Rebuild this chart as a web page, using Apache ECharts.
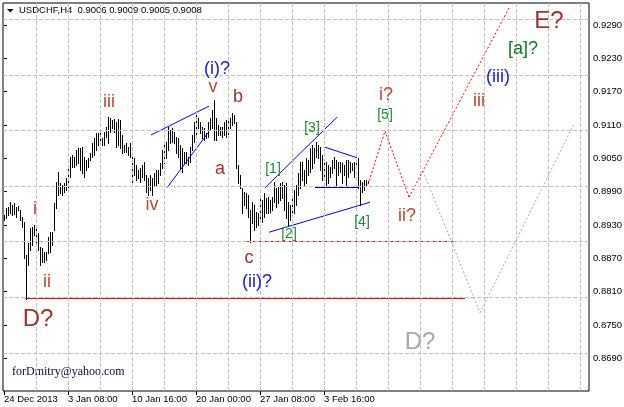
<!DOCTYPE html>
<html><head><meta charset="utf-8">
<script src="https://cdn.jsdelivr.net/npm/echarts@6/dist/echarts.min.js"></script>
<style>html,body{margin:0;padding:0;background:#fff}#c{width:624px;height:407px}</style>
</head><body><div id="c"></div>
<script>
// H4 bars (high / low), one per 4-hour bar from 24 Dec 2013
const highs = [
.8948,.8961,.8962,.8971,.8966,.8970,.8962,.8964,.8957,.8944,
.8935,.8876,.8898,.8925,.8926,.8930,.8926,.8916,.8890,.8889,
.8881,.8881,.8908,.8917,.8917,.8970,.9007,.9025,.9006,.9002,
.9006,.9015,.9033,.9052,.9056,.9052,.9065,.9069,.9069,.9070,
.9052,.9047,.9051,.9060,.9078,.9087,.9096,.9096,.9101,.9087,
.9097,.9106,.9124,.9123,.9119,.9121,.9115,.9121,.9119,.9092,
.9074,.9078,.9070,.9078,.9060,.9051,.9038,.9029,.9033,.9038,
.9043,.9020,.9015,.9020,.9015,.9024,.9029,.9029,.9042,.9065,
.9074,.9079,.9106,.9101,.9105,.9097,.9088,.9087,.9074,.9069,
.9061,.9061,.9052,.9070,.9092,.9115,.9132,.9123,.9115,.9106,
.9105,.9096,.9115,.9123,.9137,.9155,.9123,.9110,.9106,.9106,
.9115,.9119,.9123,.9123,.9132,.9128,.9115,.9038,.9020,.8997,
.8989,.8988,.8984,.8957,.8971,.8966,.8953,.8952,.8980,.8975,
.8988,.8979,.8980,.8975,.8980,.9007,.8997,.8998,.9006,.9007,
.9002,.9006,.8971,.8966,.8980,.8993,.9002,.9024,.9043,.9043,
.9029,.9051,.9047,.9069,.9074,.9069,.9079,.9074,.9070,.9056,
.9042,.9043,.9038,.9034,.9047,.9052,.9047,.9043,.9043,.9042,
.9038,.9047,.9047,.9043,.9042,.9043,.9047,.9051,.9011,.9007,
.9011,.9011,.9009];
const lows = [
.8939,.8943,.8948,.8952,.8948,.8950,.8944,.8957,.8939,.8926,
.8871,.8797,.8858,.8885,.8894,.8912,.8899,.8885,.8858,.8863,
.8863,.8867,.8880,.8881,.8894,.8921,.8961,.8984,.8988,.8984,
.8989,.8993,.8998,.9016,.9034,.9034,.9038,.9042,.9029,.9024,
.9016,.9029,.9034,.9047,.9052,.9056,.9065,.9074,.9079,.9074,
.9074,.9088,.9078,.9097,.9105,.9097,.9070,.9074,.9069,.9060,
.9061,.9061,.9056,.9052,.9002,.9020,.9011,.9015,.9007,.9016,
.9011,.8989,.8984,.8993,.8984,.9002,.9002,.9006,.9020,.9033,
.9042,.9051,.9065,.9078,.9079,.9078,.9060,.9052,.9033,.9025,
.9042,.9042,.9038,.9043,.9065,.9079,.9092,.9105,.9096,.9087,
.9083,.9087,.9088,.9101,.9105,.9083,.9083,.9092,.9092,.9088,
.9092,.9088,.9092,.9105,.9110,.9114,.9033,.9006,.8997,.8952,
.8966,.8961,.8944,.8900,.8934,.8921,.8926,.8930,.8939,.8935,
.8944,.8952,.8952,.8953,.8957,.8971,.8962,.8970,.8975,.8979,
.8957,.8943,.8930,.8939,.8948,.8952,.8966,.8984,.8997,.9011,
.9002,.9006,.9020,.9025,.9033,.9042,.9052,.9051,.9029,.9011,
.9015,.9002,.9006,.9016,.9024,.9033,.9002,.9020,.9025,.9006,
.9020,.9002,.9016,.9025,.9029,.9016,.9033,.8997,.8966,.8989,
.8993,.9002,.9005];

const yTicks = [0.8690,0.8750,0.8810,0.8870,0.8930,0.8990,0.9050,0.9110,0.9170,0.9230,0.9290];
const xTickIdx = [0,32,64,96,128,160];
const xTickLabels = ['24 Dec 2013','3 Jan 08:00','10 Jan 16:00','20 Jan 00:00','27 Jan 08:00','3 Feb 16:00'];
const gridIdx = [16,32,48,64,80,96,112,128,144,160,176,192,208,224,240,256,272,288];

// analysis lines [barIndex, price]
const blueLines = [
  [[73.5,0.9092],[102.5,0.9144]],
  [[81.5,0.8997],[102,0.9096]],
  [[130.5,0.8997],[166.5,0.9124]],
  [[132.5,0.8917],[183,0.8971]],
  [[160.5,0.9070],[176.5,0.9051]]
];
const blueLevels = [
  [[155.5,0.8997],[177,0.8997]]
];
const redLevels = [
  [[10.5,0.8797],[230.5,0.8797]],
  [[120.5,0.8900],[225,0.8900]]
];
const redPath = [[182,0.9003],[190.5,0.9099],[202.5,0.8980],[253,0.9324]];
const greyPath = [[209.5,0.9027],[238,0.8772],[285,0.9112]];

// wave labels
const labelText = ['i','ii','iii','iv','v','(i)?','a','b','c','(ii)?','D?','[1]','[2]','[3]','[4]','[5]','i?','ii?','iii','(iii)','[a]?','E?','D?'];
const labelX =    [15.5,21.5,52.5,74,104.5,106.5,108,117,122.5,126.5,17,134.5,142.5,154,179,190.5,191,201.5,237.5,247,259.5,272.5,208];
const labelY =    [.8959,.8827,.9151,.8966,.9178,.9211,.9031,.9160,.8871,.8827,.8761,.9031,.8914,.9105,.8935,.9128,.9164,.8946,.9153,.9196,.9247,.9297,.8719];
const labelKind = ['w','w','w','w','w','b','W','W','W','b','big','g','g','g','g','g','w','w','w','b','g2','big','grey'];

const FONT = '"Liberation Sans", Arial, sans-serif';
const kinds = {
  w:   {color:'#C5432B', font:'18px ' + FONT},
  W:   {color:'#A8302C', font:'18px ' + FONT},
  b:   {color:'#1515F5', font:'18px ' + FONT},
  g:   {color:'#1F8A3A', font:'14px ' + FONT},
  g2:  {color:'#0B7A1E', font:'18px ' + FONT},
  big: {color:'#A8302C', font:'24px ' + FONT},
  grey:{color:'#A8A8A8', font:'24px ' + FONT}
};

function flatten(segs) {
  const flat = [];
  segs.forEach(seg => { for (let k = 0; k + 1 < seg.length; k++) flat.push([seg[k][0], seg[k][1], seg[k+1][0], seg[k+1][1]]); });
  return flat;
}
// sloped segments
function slopeSeries(segs, color, dash, z) {
  return {
    type:'custom', z:z, silent:true,
    data: flatten(segs), encode:{x:[0,2], y:[1,3]},
    renderItem:(params, api)=>{
      const a = api.coord([api.value(0), api.value(1)]);
      const b = api.coord([api.value(2), api.value(3)]);
      const style = {stroke:color, lineWidth:1, fill:null};
      if (dash) style.lineDash = dash;
      return {type:'line', shape:{x1:a[0], y1:a[1], x2:b[0], y2:b[1]}, style:style};
    }
  };
}
// horizontal levels, drawn as crisp 1px rectangles
function levelSeries(segs, color, z) {
  return {
    type:'custom', z:z, silent:true,
    data: flatten(segs), encode:{x:[0,2], y:[1,3]},
    renderItem:(params, api)=>{
      const a = api.coord([api.value(0), api.value(1)]);
      const b = api.coord([api.value(2), api.value(3)]);
      const x0 = Math.round(Math.min(a[0], b[0]));
      return {type:'rect', shape:{x:x0, y:Math.floor(a[1]), width:Math.round(Math.abs(b[0]-a[0])), height:1},
              style:{fill:color}};
    }
  };
}

const series = [];
// grid lines
series.push({
  type:'line', z:1, silent:true, showSymbol:false,
  data:[[0, yTicks[0]]], lineStyle:{opacity:0},
  markLine:{
    silent:true, symbol:['none','none'], label:{show:false}, animation:false,
    lineStyle:{color:'#C0C0C0', type:[4,2], width:1},
    data: gridIdx.map(v=>({xAxis:v})).concat(yTicks.map(v=>({yAxis:v})))
  }
});
// bars
series.push({
  type:'custom', z:3, silent:true,
  data: highs.map((h,i)=>[i,h,lows[i]]),
  encode:{x:0, y:[1,2]},
  renderItem:(params, api)=>{
    const x = api.value(0);
    const a = api.coord([x, api.value(1)]);
    const b = api.coord([x, api.value(2)]);
    const px = Math.floor(a[0]);
    const y0 = Math.round(a[1]);
    return {type:'rect', shape:{x:px, y:y0, width:1, height:Math.max(1, Math.round(b[1]) + 1 - y0)},
            style:{fill:'#000'}};
  }
});
series.push(slopeSeries(blueLines, '#0000FF', null, 4));
series.push(levelSeries(blueLevels, '#0000FF', 4));
series.push(levelSeries(redLevels, '#FF0000', 4));
series.push(slopeSeries([redPath], '#FF0000', [2,2], 4));
series.push(slopeSeries([greyPath], '#A8A8A8', [2,2], 4));
// labels
series.push({
  type:'custom', z:5, silent:true,
  data: labelX.map((x,i)=>[x, labelY[i]]),
  encode:{x:0, y:1},
  renderItem:(params, api)=>{
    const i = params.dataIndex;
    const p = api.coord([api.value(0), api.value(1)]);
    const st = kinds[labelKind[i]];
    return {type:'text', x:p[0], y:p[1],
      style:{text:labelText[i], fill:st.color, font:st.font, align:'center', verticalAlign:'middle'}};
  }
});

const chart = echarts.init(document.getElementById('c'), null, {renderer:'canvas'});
chart.setOption({
  animation:false,
  backgroundColor:'#fff',
  grid:{left:3, top:3, width:586, height:388, show:true, borderColor:'#000', borderWidth:1,
        backgroundColor:'transparent', containLabel:false, outerBoundsMode:'none'},
  xAxis:{
    type:'value', min:-0.5, max:292.5, position:'bottom',
    axisLine:{show:false}, splitLine:{show:false},
    axisTick:{show:true, customValues:xTickIdx, length:4, lineStyle:{color:'#000'}},
    axisLabel:{show:true, customValues:xTickIdx, align:'left', margin:3,
      formatter:v=>xTickLabels[xTickIdx.indexOf(Math.round(v))] || '',
      color:'#000', fontSize:9.5, fontFamily:FONT}
  },
  yAxis:{
    type:'value', min:0.86312, max:0.93296, position:'right',
    axisLine:{show:false}, splitLine:{show:false},
    axisTick:{show:true, customValues:yTicks, length:3, lineStyle:{color:'#000'}},
    axisLabel:{show:true, customValues:yTicks, margin:4, formatter:v=>v.toFixed(4),
      color:'#000', fontSize:9.5, fontFamily:FONT}
  },
  graphic:[
    {type:'polygon', shape:{points:[[7,9],[13.5,9],[10.25,12.5]]}, style:{fill:'#000'}},
    {type:'text', x:19, y:10.5, style:{text:'USDCHF,H4  0.9006 0.9009 0.9005 0.9008',
      font:'9.5px ' + FONT, fill:'#000', verticalAlign:'middle'}},
    {type:'text', x:12, y:372, style:{text:'forDmitry@yahoo.com',
      font:'12px "Liberation Serif", "Times New Roman", serif', fill:'#0a0a30', verticalAlign:'middle'}}
  ],
  series: series
});
</script></body></html>
